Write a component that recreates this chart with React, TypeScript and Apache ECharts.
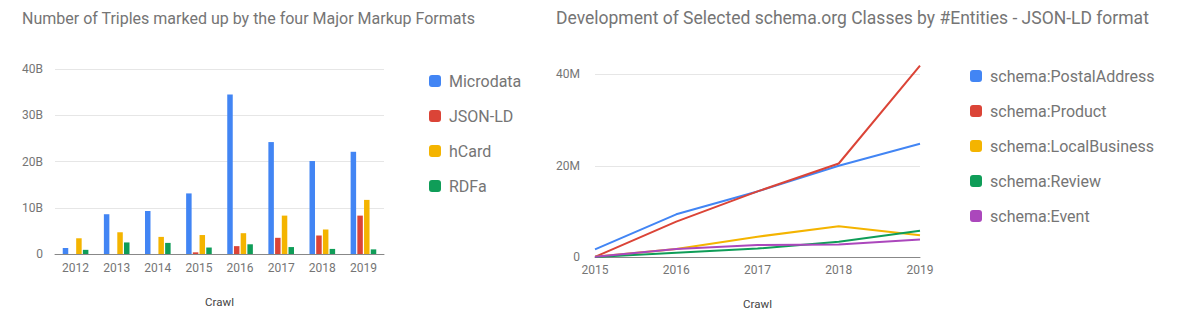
import React, { useEffect, useRef } from "react";
import * as echarts from "echarts";

const barCategories = ["2012", "2013", "2014", "2015", "2016", "2017", "2018", "2019"];
const microdata = [1.3, 8.6, 9.3, 13.1, 34.5, 24.2, 20.1, 22.1];
const jsonld = [0, 0, 0, 0.36, 1.7, 3.5, 4.0, 8.3];
const hcard = [3.4, 4.7, 3.7, 4.1, 4.5, 8.3, 5.3, 11.7];
const rdfa = [0.9, 2.5, 2.4, 1.4, 2.1, 1.5, 1.1, 1.0];

const lineCategories = ["2015", "2016", "2017", "2018", "2019"];
const postalAddress = [1.75, 9.4, 14.4, 20.0, 24.8];
const product = [0.1, 7.8, 14.4, 20.5, 41.9];
const localBusiness = [0.1, 1.8, 4.5, 6.8, 4.8];
const review = [0.05, 1.0, 1.9, 3.4, 5.8];
const eventCls = [0.1, 1.8, 2.7, 2.8, 3.9];

const BLUE = "#4285F4";
const RED = "#DB4437";
const YELLOW = "#F4B400";
const GREEN = "#0F9D58";
const PURPLE = "#AB47BC";
const TXT = "#757575";
const FONT = "Roboto";

export default function App() {
  const ref = useRef<HTMLDivElement>(null);
  useEffect(() => {
    const chart = echarts.init(ref.current!, null, { renderer: "svg" });
    const barSeries = (name: string, data: number[], color: string) => ({
      name,
      type: "bar",
      xAxisIndex: 0,
      yAxisIndex: 0,
      data: data.map((v) => v * 1e9),
      barWidth: 5.5,
      barGap: "22%",
      itemStyle: { color },
    });
    const lineSeries = (name: string, data: number[], color: string) => ({
      name,
      type: "line",
      xAxisIndex: 1,
      yAxisIndex: 1,
      data: data.map((v) => v * 1e6),
      symbol: "none",
      clip: false,
      lineStyle: { color, width: 2 },
      itemStyle: { color },
    });
    const legendCommon = {
      orient: "vertical",
      icon: "roundRect",
      itemWidth: 12,
      itemHeight: 12,
      itemGap: 19,
      textStyle: { color: TXT, fontFamily: FONT, fontSize: 16, padding: [0, 0, 0, 3] },
    };
    chart.setOption({
      animation: false,
      backgroundColor: "#fff",
      textStyle: { fontFamily: FONT },
      title: [
        {
          text: "Number of Triples marked up by the four Major Markup Formats",
          left: 17,
          top: 5,
          textStyle: { color: TXT, fontFamily: FONT, fontSize: 16, fontWeight: "normal" },
        },
        {
          text: "Development of Selected schema.org Classes by #Entities - JSON-LD format",
          left: 551,
          top: 4,
          textStyle: { color: TXT, fontFamily: FONT, fontSize: 17.5, fontWeight: "normal" },
        },
      ],
      legend: [
        { ...legendCommon, left: 424, top: 68, data: ["Microdata", "JSON-LD", "hCard", "RDFa"] },
        {
          ...legendCommon,
          left: 965,
          top: 63,
          data: [
            "schema:PostalAddress",
            "schema:Product",
            "schema:LocalBusiness",
            "schema:Review",
            "schema:Event",
          ],
        },
      ],
      grid: [
        { left: 55, top: 69, width: 329, height: 185 },
        { left: 595, top: 74.3, width: 325, height: 183 },
      ],
      xAxis: [
        {
          type: "category",
          gridIndex: 0,
          data: barCategories,
          axisTick: { show: false },
          axisLine: { lineStyle: { color: "#888" } },
          axisLabel: { color: TXT, fontSize: 12, fontFamily: FONT, margin: 8 },
          name: "Crawl",
          nameLocation: "middle",
          nameGap: 42,
          nameTextStyle: { color: "#444", fontSize: 11.5, fontFamily: FONT },
        },
        {
          type: "category",
          gridIndex: 1,
          data: lineCategories,
          boundaryGap: false,
          axisTick: { show: false },
          axisLine: { lineStyle: { color: "#888" } },
          axisLabel: { color: TXT, fontSize: 12, fontFamily: FONT, margin: 7 },
          name: "Crawl",
          nameLocation: "middle",
          nameGap: 41,
          nameTextStyle: { color: "#444", fontSize: 11.5, fontFamily: FONT },
        },
      ],
      yAxis: [
        {
          type: "value",
          gridIndex: 0,
          min: 0,
          max: 40e9,
          interval: 10e9,
          axisLabel: {
            color: TXT,
            fontSize: 12,
            fontFamily: FONT,
            margin: 12,
            formatter: (v: number) => (v === 0 ? "0" : v / 1e9 + "B"),
          },
          splitLine: { lineStyle: { color: "#e6e6e6" } },
        },
        {
          type: "value",
          gridIndex: 1,
          min: 0,
          max: 40e6,
          interval: 20e6,
          axisLabel: {
            color: TXT,
            fontSize: 12,
            fontFamily: FONT,
            margin: 15,
            formatter: (v: number) => (v === 0 ? "0" : v / 1e6 + "M"),
          },
          splitLine: { lineStyle: { color: "#e6e6e6" } },
        },
      ],
      series: [
        barSeries("Microdata", microdata, BLUE),
        barSeries("JSON-LD", jsonld, RED),
        barSeries("hCard", hcard, YELLOW),
        barSeries("RDFa", rdfa, GREEN),
        lineSeries("schema:PostalAddress", postalAddress, BLUE),
        lineSeries("schema:Product", product, RED),
        lineSeries("schema:LocalBusiness", localBusiness, YELLOW),
        lineSeries("schema:Review", review, GREEN),
        lineSeries("schema:Event", eventCls, PURPLE),
      ],
    });
    return () => chart.dispose();
  }, []);
  return (
    <div
      ref={ref}
      style={{ position: "fixed", left: 0, top: 0, width: 1177, height: 324, background: "#fff" }}
    />
  );
}
